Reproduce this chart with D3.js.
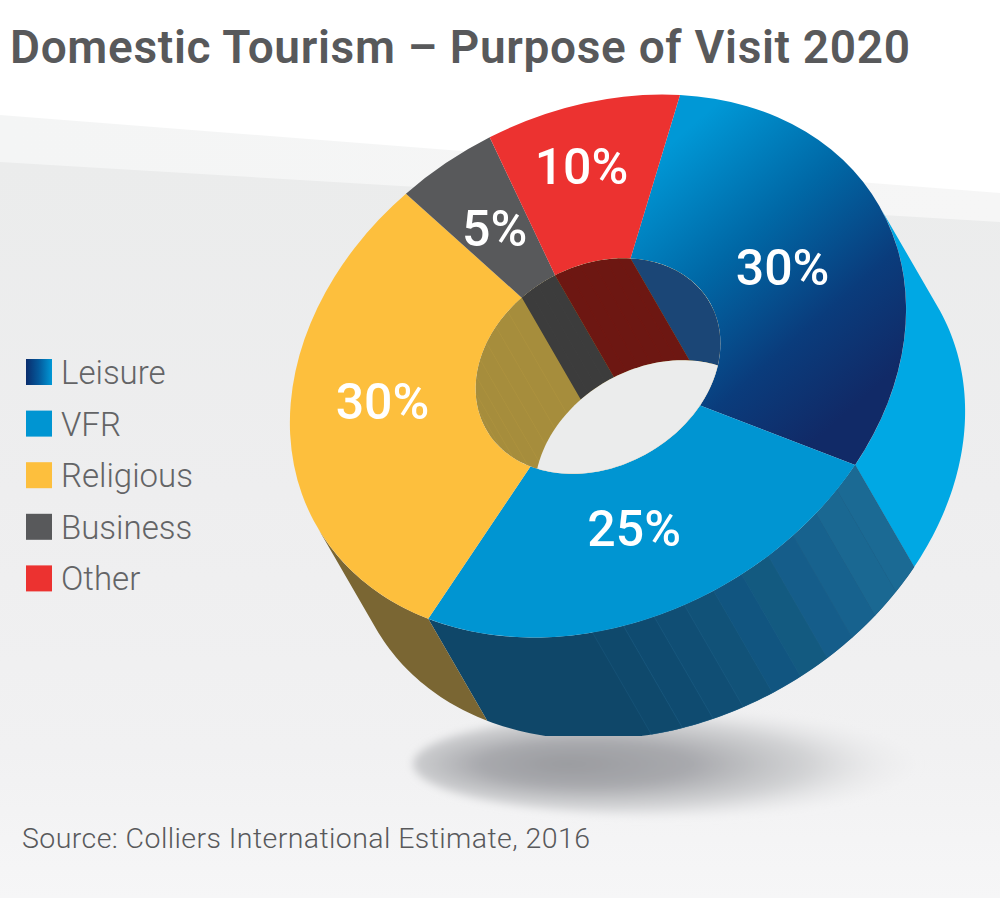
<!DOCTYPE html>
<html><head><meta charset="utf-8">
<script src="https://cdn.jsdelivr.net/npm/d3@7"></script>
<style>html,body{margin:0;padding:0;background:#fff}svg{display:block}text{font-family:Roboto,sans-serif}</style>
</head><body><div id="c"></div>
<script>
const categories = ["Leisure","VFR","Religious","Business","Other"];
const values = [30,25,30,5,10];
const labels = ["30%","25%","30%","5%","10%"];
const topColors = ["url(#leisureGrad)","#0095d2","#fdbf3d","#58595b","#ec3230"];
const legendColors = ["url(#legendGrad)","#0095d2","#fdbf3d","#58595b","#ec3230"];
const outerWallColors = ["#00a8e4","#0f4769","#7a6633","#58595b","#ec3230"];
const innerWallColors = ["#1b4676","#0095d2","#a68d3c","#3c3c3c","#6d1712"];
const vfrFacetColors = ["#1b6a94","#1a6892","#17628e","#155d8a","#135a80","#115580","#115278","#104e74","#0f4b70","#0f496c"];
const title = "Domestic Tourism – Purpose of Visit 2020";
const source = "Source: Colliers International Estimate, 2016";

const W=1000,H=898;
const cx=598,cy=366,ax=82,ay=-271,bx=297,by=16,depthX=59,depthY=102,inner=0.397;
const svg=d3.select("#c").append("svg").attr("width",W).attr("height",H);
const defs=svg.append("defs");
function lin(id,x1,y1,x2,y2,stops,units){
  const g=defs.append("linearGradient").attr("id",id).attr("x1",x1).attr("y1",y1).attr("x2",x2).attr("y2",y2);
  if(units) g.attr("gradientUnits",units);
  stops.forEach(s=>g.append("stop").attr("offset",s[0]).attr("stop-color",s[1]));
  return g;
}
// Leisure gradient is given in page space; undo the ring's matrix for it
const det=bx*(-ay)-(-ax)*by;
const inv=[-ay/det,-by/det,ax/det,bx/det];
const invE=-(inv[0]*cx+inv[2]*cy), invF=-(inv[1]*cx+inv[3]*cy);
lin("leisureGrad",640,170,850,410,[[0,"#0098d6"],[.38,"#0068a6"],[.72,"#0a3c7c"],[1,"#112a67"]],"userSpaceOnUse")
  .attr("gradientTransform",`matrix(${inv.join(",")},${invE},${invF})`);
lin("legendGrad",0,0,1,0,[[0,"#0a2c6c"],[.5,"#045a9c"],[1,"#0098d6"]]);
lin("bgGrad",0,0,0,1,[[0,"#ebecec"],[.45,"#eeeeef"],[.8,"#f1f1f2"],[1,"#f6f6f7"]]);
lin("bandGrad",0,0,1,0,[[0,"#f4f5f5"],[1,"#f6f6f6"]]);
const rg=defs.append("radialGradient").attr("id","shadowGrad").attr("cx",.42).attr("cy",.5).attr("r",.6).attr("fx",.3).attr("fy",.5);
[[0,"#9a9b9f",1],[.35,"#a8a9ad",1],[.68,"#cdced0",.85],[1,"#eeeeef",0]].forEach(s=>rg.append("stop").attr("offset",s[0]).attr("stop-color",s[1]).attr("stop-opacity",s[2]));
defs.append("filter").attr("id","soft").attr("x","-10%").attr("y","-20%").attr("width","120%").attr("height","140%")
  .append("feGaussianBlur").attr("stdDeviation",4);

// Background bands
const bg=svg.append("g");
bg.append("rect").attr("width",W).attr("height",H).attr("fill","#fff");
bg.append("path").attr("d",d3.line()([[0,115],[W,193],[W,H],[0,H]])).attr("fill","url(#bandGrad)");
bg.append("path").attr("d",d3.line()([[0,162],[W,222],[W,H],[0,H]])).attr("fill","url(#bgGrad)");

// Shadow
svg.append("ellipse").attr("cx",665).attr("cy",764).attr("rx",252).attr("ry",52)
  .attr("fill","url(#shadowGrad)").attr("filter","url(#soft)");

// Projection of the tilted ring: unit circle -> ellipse
const proj=(t,r,s)=>[cx+r*(ax*Math.cos(t)+bx*Math.sin(t))+s*depthX, cy+r*(ay*Math.cos(t)+by*Math.sin(t))+s*depthY];
const matrix=`matrix(${bx},${by},${-ax},${-ay},${cx},${cy})`;
// Angle at which the ring's edge runs parallel to the extrusion: walls turn from hidden to visible here
const tangent=Math.atan2(bx*depthY-by*depthX, ax*depthY-ay*depthX);
const TAU=2*Math.PI;

const pie=d3.pie().sort(null).value(d=>d)(values);
const arc=d3.arc().innerRadius(inner).outerRadius(1);
const line=d3.line();
function band(a0,a1,r){
  if(a1<=a0) return "";
  const n=Math.max(2,Math.ceil((a1-a0)/0.02));
  const ts=d3.range(n+1).map(i=>a0+(a1-a0)*i/n);
  return line(ts.map(t=>proj(t,r,0)).concat(ts.slice().reverse().map(t=>proj(t,r,1))))+"Z";
}
const outerBand=d=>band(Math.max(d.startAngle,tangent),Math.min(d.endAngle,tangent+Math.PI),1);
const innerBand=d=>band(Math.max(d.startAngle,tangent+Math.PI),d.endAngle,inner)+band(d.startAngle,Math.min(d.endAngle,tangent),inner);

defs.append("clipPath").attr("id","floor").append("rect").attr("width",W).attr("height",736);
const holePath=line(d3.range(0,361,2).map(d=>proj(d*Math.PI/180,inner,0)))+"Z";
const holeShifted=line(d3.range(0,361,2).map(d=>proj(d*Math.PI/180,inner,1)))+"Z";
defs.append("clipPath").attr("id","hole").append("path").attr("d",holePath);

// Outer walls
const walls=svg.append("g").attr("clip-path","url(#floor)");
walls.selectAll("path.w").data(pie).enter().append("path").attr("class","w")
  .attr("d",outerBand).attr("fill",(d,i)=>outerWallColors[i]);
// Facets on the VFR wall
const vfr=pie[1], facetEnd=vfr.startAngle+(vfr.endAngle-vfr.startAngle)*0.64, fStep=(facetEnd-vfr.startAngle)/vfrFacetColors.length;
walls.selectAll("path.f").data(vfrFacetColors).enter().append("path").attr("class","f")
  .attr("d",(c,i)=>band(vfr.startAngle+i*fStep,vfr.startAngle+(i+1)*fStep,1))
  .attr("fill",c=>c).attr("stroke","#2a6f96").attr("stroke-width",.25);

// Top face
const face=svg.append("g").attr("transform",matrix);
face.selectAll("path").data(pie).enter().append("path").attr("d",arc)
  .attr("fill",(d,i)=>topColors[i]);

// Hole: inner walls and the opening
const hole=svg.append("g").attr("clip-path","url(#hole)");
hole.append("path").attr("d",holePath).attr("fill",innerWallColors[2]);
hole.selectAll("path.i").data(pie).enter().append("path").attr("class","i")
  .attr("d",innerBand).attr("fill",(d,i)=>innerWallColors[i]);
const stripes=[];
pie.forEach((d,i)=>{ if(i>=2){const n=i===2?12:i===3?4:6; d3.range(1,n).forEach(k=>stripes.push({t:d.endAngle-(d.endAngle-d.startAngle)*k/n,i}));}});
hole.selectAll("path.s").data(stripes).enter().append("path").attr("class","s")
  .attr("d",s=>line([proj(s.t,inner,0),proj(s.t,inner,1)]))
  .attr("stroke",s=>d3.color(innerWallColors[s.i]).brighter(.2)).attr("stroke-width",.5).attr("fill","none");
hole.append("path").attr("d",holeShifted).attr("fill","#ebecec");

// Percentage labels: placed on the ring, with small optical nudges
const labelRadius=[.64,.65,.70,.68,.76], nudge=[[0,-5],[-4,0],[0,-13],[0,0],[-6,0]];
svg.append("g").selectAll("text").data(pie).enter().append("text")
  .attr("x",(d,i)=>proj((d.startAngle+d.endAngle)/2,labelRadius[i],0)[0]+nudge[i][0])
  .attr("y",(d,i)=>proj((d.startAngle+d.endAngle)/2,labelRadius[i],0)[1]+nudge[i][1]+18)
  .attr("text-anchor","middle").attr("fill","#fff").attr("font-size",50).attr("font-weight",500)
  .text((d,i)=>labels[i]);

// Title, legend, source
svg.append("text").attr("x",10).attr("y",63).attr("font-size",46).attr("font-weight",600)
  .attr("fill","#58595b").attr("textLength",900).attr("lengthAdjust","spacing").text(title);
const lg=svg.append("g").selectAll("g").data(categories).enter().append("g")
  .attr("transform",(d,i)=>`translate(26,${359+i*51.6})`);
lg.append("rect").attr("width",26).attr("height",26).attr("fill",(d,i)=>legendColors[i]);
lg.append("text").attr("x",35).attr("y",25).attr("font-size",33).attr("font-weight",300).attr("fill","#636466").text(d=>d);
svg.append("text").attr("x",22).attr("y",848).attr("font-size",28.5).attr("font-weight",300)
  .attr("fill","#58595b").attr("textLength",568).attr("lengthAdjust","spacing").text(source);
</script></body></html>
